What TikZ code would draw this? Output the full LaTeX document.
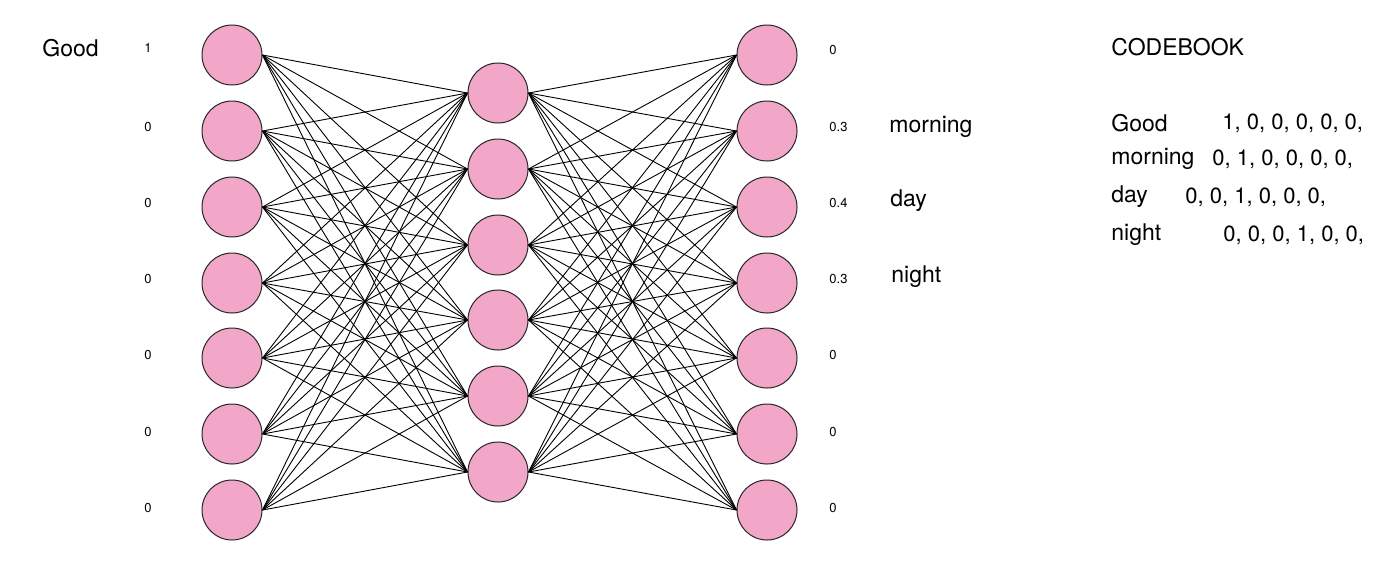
\documentclass[tikz,border=0pt]{standalone}
\usepackage{fontspec}
\setmainfont{TeX Gyre Heros}
\definecolor{nodepink}{RGB}{242,166,200}
\begin{document}
\begin{tikzpicture}[
  x=0.5pt, y=-0.5pt,
  vnode/.style={circle, draw=black!85, fill=nodepink, line width=0.5pt, inner sep=0pt, minimum size=30pt},
  edge/.style={line width=0.45pt, draw=black},
  val/.style={font=\fontsize{6.5}{8}\selectfont, anchor=west, inner sep=0pt},
  word/.style={font=\fontsize{11.5}{14}\selectfont, anchor=west, inner sep=0pt},
  code/.style={font=\fontsize{11}{14}\selectfont, anchor=west, inner sep=0pt}
]
  \useasboundingbox (0,0) rectangle (1400,580);

  % --- Capa de entrada ---
  \node[vnode] (i1) at (232, 55) {};
  \node[vnode] (i2) at (232,131) {};
  \node[vnode] (i3) at (232,207) {};
  \node[vnode] (i4) at (232,283) {};
  \node[vnode] (i5) at (232,358) {};
  \node[vnode] (i6) at (232,434) {};
  \node[vnode] (i7) at (232,510) {};

  % --- Capa oculta ---
  \node[vnode] (h1) at (498, 93) {};
  \node[vnode] (h2) at (498,169) {};
  \node[vnode] (h3) at (498,245) {};
  \node[vnode] (h4) at (498,320) {};
  \node[vnode] (h5) at (498,396) {};
  \node[vnode] (h6) at (498,472) {};

  % --- Capa de salida ---
  \node[vnode] (o1) at (767, 55) {};
  \node[vnode] (o2) at (767,131) {};
  \node[vnode] (o3) at (767,207) {};
  \node[vnode] (o4) at (767,283) {};
  \node[vnode] (o5) at (767,358) {};
  \node[vnode] (o6) at (767,434) {};
  \node[vnode] (o7) at (767,510) {};

  % Aristas (todas contra todas)
  \foreach \i in {1,...,7}
    \foreach \j in {1,...,6} {
      \draw[edge] (i\i.east) -- (h\j.west);
      \draw[edge] (h\j.east) -- (o\i.west);
    }

  % Entrada
  \node[word] (win) at (42,48) {Good};
  \node[val] (x1) at (144, 48) {1};
  \node[val] (x2) at (144,127) {0};
  \node[val] (x3) at (144,203) {0};
  \node[val] (x4) at (144,279) {0};
  \node[val] (x5) at (144,355) {0};
  \node[val] (x6) at (144,432) {0};
  \node[val] (x7) at (144,508) {0};

  % Salida
  \node[val] (y1) at (829, 50) {0};
  \node[val] (y2) at (829,127) {0.3};
  \node[val] (y3) at (829,203) {0.4};
  \node[val] (y4) at (829,279) {0.3};
  \node[val] (y5) at (829,355) {0};
  \node[val] (y6) at (829,432) {0};
  \node[val] (y7) at (829,508) {0};
  \node[word] (w2) at (889,127) {morning};
  \node[word] (w3) at (890,201) {day};
  \node[word] (w4) at (891,277) {night};

  % Codebook
  \node[word] (cb) at (1111,47) {CODEBOOK};
  \node[word] (cb1) at (1111,123) {Good};
  \node[code] (cv1) at (1222,123) {1, 0, 0, 0, 0, 0,};
  \node[word] (cb2) at (1111,159) {morning};
  \node[code] (cv2) at (1212,159) {0, 1, 0, 0, 0, 0,};
  \node[word] (cb3) at (1111,197) {day};
  \node[code] (cv3) at (1185,197) {0, 0, 1, 0, 0, 0,};
  \node[word] (cb4) at (1111,235) {night};
  \node[code] (cv4) at (1223,235) {0, 0, 0, 1, 0, 0,};
\end{tikzpicture}
\end{document}
